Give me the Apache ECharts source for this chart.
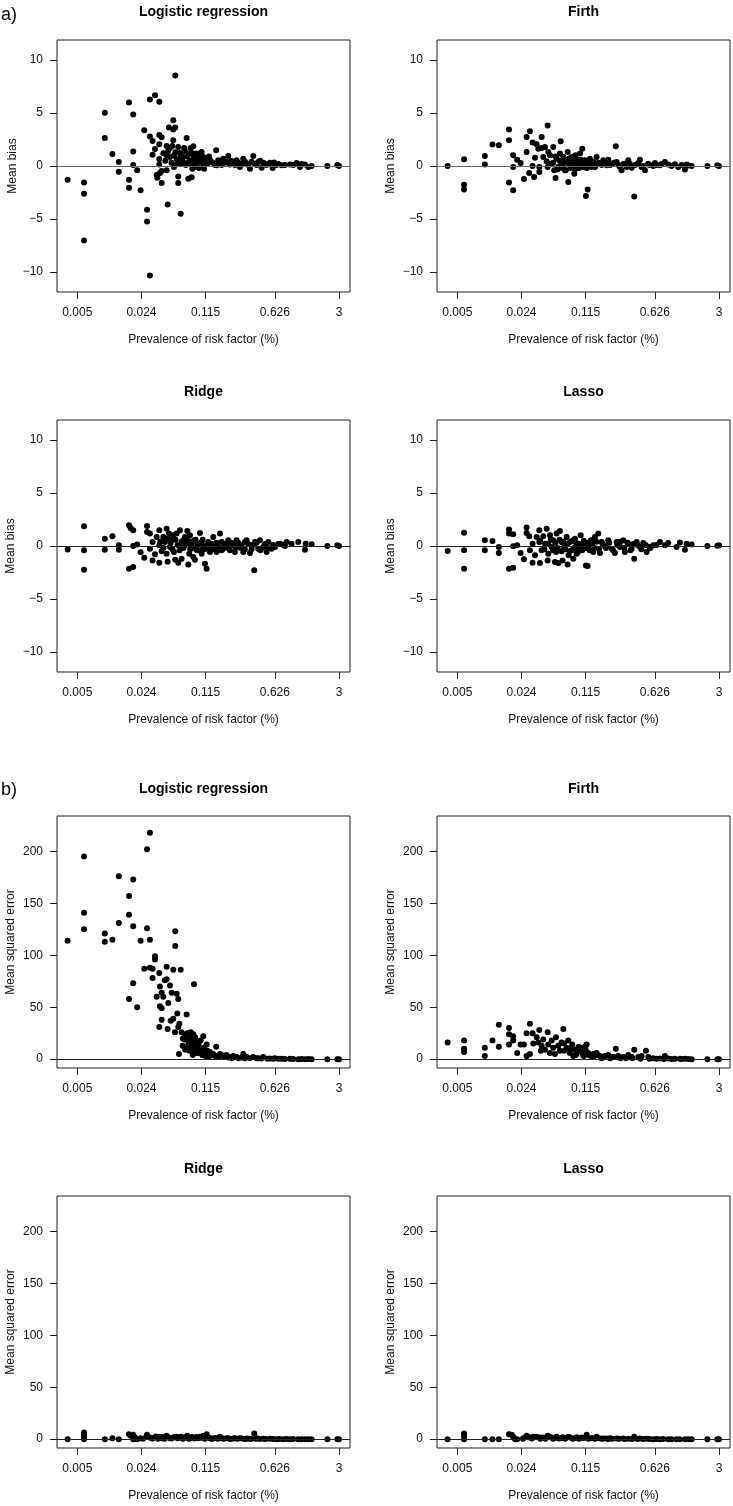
<!DOCTYPE html>
<html>
<head>
<meta charset="utf-8">
<script src="https://cdn.jsdelivr.net/npm/echarts@6/dist/echarts.min.js"></script>
<style>
  html, body { margin: 0; padding: 0; background: #fff; }
  #chart { width: 733px; height: 1506px; }
</style>
</head>
<body>
<div id="chart"></div>
<script>
// tick positions / labels
var prevTicks = [0.005, 0.024, 0.115, 0.626, 3];
var prevTickLabels = ['0.005', '0.024', '0.115', '0.626', '3'];
var biasTicks = [-10, -5, 0, 5, 10];
var mseTicks = [0, 50, 100, 150, 200];
var methods = ['Logistic regression', 'Firth', 'Ridge', 'Lasso'];

// [prevalence (%), mean bias]
var logitBias = [[0.00395,-1.29],[0.0059,-1.55],[0.0059,-2.62],[0.0059,-7.03],[0.0098,5.02],[0.0098,2.65],[0.0118,1.14],[0.0138,0.38],[0.0138,-0.54],[0.0177,5.99],[0.0177,-1.29],[0.0177,-2.05],[0.0196,4.86],[0.0196,1.36],[0.0196,0.09],[0.0216,-0.41],[0.0235,-2.30],[0.0257,3.38],[0.0275,-4.13],[0.0275,-5.24],[0.0295,6.28],[0.0295,2.78],[0.0295,-10.35],[0.0315,2.37],[0.0315,1.07],[0.0334,6.69],[0.0334,1.61],[0.0348,-0.85],[0.0354,-1.10],[0.0371,6.06],[0.0371,2.93],[0.0371,2.05],[0.0371,0.66],[0.0371,0.13],[0.0377,-0.66],[0.0393,2.71],[0.0393,-1.61],[0.0393,-0.47],[0.0444,1.89],[0.0444,1.01],[0.0444,-0.41],[0.0455,-3.63],[0.047,3.63],[0.0482,1.70],[0.0482,0.85],[0.0522,4.32],[0.0522,3.44],[0.0522,2.43],[0.0531,0.98],[0.0531,-0.09],[0.0548,8.55],[0.0548,3.63],[0.0567,0.69],[0.059,1.80],[0.059,-0.98],[0.059,-1.61],[0.0615,1.23],[0.0626,-4.51],[0.064,0.22],[0.0667,0.85],[0.0695,1.42],[0.0724,2.65],[0.0736,0.28],[0.0754,-1.20],[0.0773,1.17],[0.0799,1.70],[0.0818,-1.07],[0.0832,-0.25],[0.0852,1.86],[0.0867,0.85],[0.0887,-0.09],[0.0924,1.17],[0.0962,0.38],[0.1002,0.69],[0.1044,1.32],[0.1087,0.22],[0.111,-0.25],[0.1133,0.79],[0.118,0.47],[0.128,0.60],[0.1389,0.28],[0.149,1.48],[0.1506,0.06],[0.1569,0.54],[0.166,0.22],[0.1773,0.69],[0.1923,0.38],[0.2003,0.95],[0.2087,0.13],[0.2264,0.38],[0.2456,0.54],[0.2664,-0.09],[0.289,0.69],[0.3136,0.22],[0.3402,-0.25],[0.3691,0.95],[0.3844,0.22],[0.417,0.38],[0.4524,-0.16],[0.4909,0.22],[0.593,-0.19],[0.617,0.32],[0.738,0.06],[0.904,0.13],[1.064,0.28],[1.155,-0.09],[1.305,0.13],[1.536,0],[2.26,0],[2.88,0.09],[3.0,0],
  [0.041,1.2],[0.043,0.5],[0.046,1.4],[0.05,0.3],[0.051,1.9],[0.055,1.3],[0.057,0.2],[0.06,0.6],[0.063,1.0],[0.066,0.4],[0.068,1.7],[0.071,0.1],[0.074,0.9],[0.078,0.5],[0.081,0.2],[0.084,1.2],[0.088,0.6],[0.091,0.3],[0.095,0.9],[0.098,-0.2],[0.103,0.4],[0.107,0.9],[0.12,0.2],[0.125,0.9],[0.133,0.4],[0.145,0.1],[0.16,0.3],[0.17,0.1],[0.185,0.3],[0.215,0.5],[0.236,0.1],[0.256,0.3],[0.278,0.2],[0.301,0.4],[0.327,0.1],[0.354,0.4],[0.4,0.1],[0.435,0.5],[0.472,0.3],[0.511,0.1],[0.533,0.2],[0.555,0.3],[0.65,0.1],[0.68,0.2],[0.8,0.1],[0.98,0.1],[1.2,0.2],[1.42,-0.1]];

var firthBias = [[0.00395,0],[0.0059,0.63],[0.0059,-1.77],[0.0059,-2.21],[0.0098,0.95],[0.0098,0.13],[0.0118,2.02],[0.0138,1.96],[0.0177,3.44],[0.0177,2.43],[0.0177,-1.55],[0.0196,1.01],[0.0196,-0.09],[0.0196,-2.30],[0.0216,0.60],[0.0235,0.28],[0.0255,-1.23],[0.0272,2.74],[0.0272,1.32],[0.029,-0.66],[0.0295,3.28],[0.0315,2.21],[0.0315,0],[0.0327,-1.04],[0.0334,0.79],[0.0348,2.05],[0.0362,1.64],[0.0371,-0.09],[0.0371,-0.57],[0.0393,2.74],[0.0393,1.70],[0.0409,0.85],[0.0426,1.80],[0.0444,0.44],[0.0455,3.82],[0.0455,-0.09],[0.0462,1.32],[0.0482,1.01],[0.0502,0.22],[0.0522,1.80],[0.0535,-0.41],[0.0553,-1.14],[0.0567,0.69],[0.059,-0.09],[0.0615,1.17],[0.0626,2.33],[0.064,0.22],[0.0667,0.85],[0.0695,-0.41],[0.0724,0.54],[0.0742,1.32],[0.0754,-1.51],[0.0785,0.06],[0.0818,0.85],[0.0852,0.38],[0.0873,-0.73],[0.0902,1.01],[0.0924,0],[0.0962,0.60],[0.1002,1.17],[0.1044,0.28],[0.1061,1.64],[0.1087,-0.09],[0.1133,0.54],[0.116,-2.84],[0.121,-2.21],[0.1229,0.22],[0.128,0.69],[0.1333,-0.09],[0.1389,0.38],[0.1506,0.85],[0.1634,0.22],[0.1773,0.54],[0.1923,0.06],[0.2003,0.60],[0.2173,0.16],[0.241,1.86],[0.2456,0.38],[0.2664,-0.09],[0.2775,-0.41],[0.3011,0.22],[0.3266,0.54],[0.3543,-0.16],[0.378,-2.87],[0.4004,0.16],[0.4344,0.60],[0.4524,-0.09],[0.4909,-0.41],[0.5325,0.22],[0.6018,0],[0.627,0.28],[0.708,0.06],[0.8,0.38],[0.868,0.13],[1.022,0.16],[1.109,-0.09],[1.305,-0.32],[1.359,0.13],[1.536,0],[2.26,0],[2.88,0.06],[3.0,0],
  [0.052,0.3],[0.055,0.9],[0.058,-0.3],[0.061,0.5],[0.063,-0.2],[0.066,0.1],[0.068,0.6],[0.071,-0.4],[0.074,0.3],[0.077,0.7],[0.08,-0.2],[0.083,0.2],[0.086,0.9],[0.089,-0.3],[0.094,0.4],[0.098,-0.2],[0.102,0.6],[0.106,0.1],[0.111,0.3],[0.118,-0.2],[0.125,0.4],[0.136,0.1],[0.145,-0.1],[0.157,0.3],[0.17,0.1],[0.185,0.3],[0.21,0.1],[0.23,0.3],[0.257,0.1],[0.29,0.2],[0.314,-0.1],[0.34,0.2],[0.385,0.1],[0.42,0.3],[0.47,0],[0.55,0.1],[0.65,0.1],[0.74,0.2],[0.94,0],[1.2,0.1],[1.42,0.05]];

var ridgeBias = [[0.00395,-0.32],[0.0059,1.86],[0.0059,-0.41],[0.0059,-2.24],[0.0098,0.69],[0.0098,-0.35],[0.0118,0.91],[0.0138,0.06],[0.0138,-0.35],[0.0177,1.96],[0.0177,-2.15],[0.0184,1.70],[0.0196,1.48],[0.0196,-1.99],[0.0196,0],[0.0216,0.13],[0.0235,-0.60],[0.0257,-1.10],[0.0275,1.89],[0.0275,1.32],[0.0295,1.17],[0.0295,-0.25],[0.0315,0.38],[0.0315,-1.36],[0.0334,-0.79],[0.0348,0.85],[0.0371,1.48],[0.0371,0.06],[0.0371,-1.58],[0.0393,-0.50],[0.0409,0.85],[0.0426,0.38],[0.0444,1.64],[0.0444,-0.73],[0.0455,-1.48],[0.047,1.17],[0.0482,-0.09],[0.0502,0.54],[0.0522,1.01],[0.0531,-0.57],[0.0548,-1.29],[0.0567,1.17],[0.059,-1.58],[0.0615,1.48],[0.0626,-0.09],[0.064,-1.20],[0.0667,0.54],[0.0695,0.85],[0.0724,0.22],[0.0736,1.42],[0.0754,-1.74],[0.0773,-0.73],[0.0785,1.01],[0.0818,-0.09],[0.0852,-1.04],[0.0867,0.54],[0.0887,-1.29],[0.0924,-0.41],[0.0962,0.22],[0.1002,1.23],[0.1044,-0.73],[0.1087,-0.09],[0.1133,-1.67],[0.118,-2.15],[0.1229,0.38],[0.128,-0.57],[0.1389,0.85],[0.1446,0.06],[0.1506,-0.57],[0.1634,1.17],[0.1702,0.38],[0.1773,-0.25],[0.1923,0.22],[0.2003,0.54],[0.2087,-0.41],[0.2264,0.06],[0.2358,-0.57],[0.2456,0.54],[0.2664,-0.16],[0.289,-0.57],[0.3011,0.38],[0.3136,0.54],[0.3402,-0.66],[0.3543,0.06],[0.378,-2.30],[0.3844,0.38],[0.417,-0.25],[0.4344,0.54],[0.4713,-0.09],[0.5113,-0.57],[0.5325,0.38],[0.5778,-0.25],[0.627,-0.09],[0.708,0.22],[0.8,0],[0.834,0.38],[0.942,0.22],[1.109,0.38],[1.305,-0.35],[1.33,0.22],[1.536,0.16],[2.26,0],[2.88,0.06],[3.0,0],
  [0.038,0.4],[0.041,-0.2],[0.046,0.7],[0.049,0.3],[0.051,-0.3],[0.055,0.6],[0.058,0.1],[0.061,-0.4],[0.064,0.4],[0.067,-0.2],[0.07,0.1],[0.075,0.5],[0.079,-0.3],[0.082,0.3],[0.087,-0.2],[0.09,0.6],[0.094,0.1],[0.098,-0.4],[0.103,0.3],[0.107,0.6],[0.112,-0.3],[0.118,0.1],[0.125,-0.2],[0.133,0.2],[0.141,-0.3],[0.15,0.3],[0.157,-0.1],[0.17,-0.4],[0.18,0.2],[0.2,-0.2],[0.215,0.3],[0.24,-0.1],[0.256,0.3],[0.278,0.1],[0.3,-0.3],[0.327,0.2],[0.354,-0.3],[0.37,0.1],[0.4,0.3],[0.44,-0.4],[0.49,0.2],[0.53,-0.2],[0.6,0.1],[0.68,0.2],[0.77,0.1]];

var lassoBias = [[0.00395,-0.47],[0.0059,1.26],[0.0059,-0.41],[0.0059,-2.15],[0.0098,0.54],[0.0098,-0.41],[0.0118,0.47],[0.0138,-0.09],[0.0138,-0.66],[0.0177,1.55],[0.0177,1.17],[0.0177,-2.15],[0.0196,1.10],[0.0196,-0.03],[0.0196,-2.05],[0.0216,0.06],[0.0235,-0.66],[0.0255,-1.26],[0.0272,1.74],[0.0272,1.23],[0.029,0.91],[0.0295,-0.41],[0.0315,0.22],[0.0315,-1.58],[0.0334,-0.88],[0.0348,0.85],[0.0371,1.48],[0.0371,0.38],[0.0377,-1.61],[0.0393,-0.41],[0.0409,0.91],[0.0426,0.22],[0.0444,1.64],[0.0455,-1.36],[0.0462,-0.73],[0.0482,1.01],[0.0502,-0.09],[0.0522,0.54],[0.0544,-1.51],[0.0558,-0.57],[0.0567,1.17],[0.059,-1.61],[0.0615,1.42],[0.064,0.38],[0.0656,-1.36],[0.0683,-0.09],[0.0724,0.85],[0.0742,-1.74],[0.076,-0.88],[0.0785,0.38],[0.0818,-0.41],[0.0852,-1.20],[0.0887,0.69],[0.0924,-0.73],[0.0962,-0.09],[0.102,1.01],[0.1061,-0.41],[0.1087,0.22],[0.116,-1.83],[0.121,-1.89],[0.1229,-0.09],[0.131,0.54],[0.1389,-0.57],[0.1446,0.85],[0.1569,1.17],[0.1634,-0.66],[0.1702,0.38],[0.1847,-0.03],[0.2003,0.54],[0.2173,-0.25],[0.2358,-0.66],[0.2456,0.38],[0.2664,-0.09],[0.289,0.54],[0.3011,-0.57],[0.3266,0.22],[0.3543,-0.25],[0.378,-1.20],[0.4004,0.38],[0.4344,-0.09],[0.4713,0.28],[0.5113,-0.57],[0.5547,-0.09],[0.6018,0.06],[0.708,0.38],[0.8,0.06],[0.868,0.28],[1.064,-0.09],[1.155,0.32],[1.305,-0.35],[1.359,0.22],[1.536,0.13],[2.26,0],[2.88,0.03],[3.0,0.06],
  [0.038,0.5],[0.042,-0.3],[0.046,0.2],[0.049,0.6],[0.052,-0.4],[0.055,0.3],[0.058,-0.2],[0.061,0.6],[0.064,-0.5],[0.067,0.4],[0.07,-0.3],[0.074,0.2],[0.078,-0.5],[0.083,0.5],[0.087,-0.2],[0.091,0.3],[0.095,-0.6],[0.1,0.2],[0.104,-0.3],[0.11,0.5],[0.115,-0.2],[0.12,0.3],[0.127,-0.4],[0.135,0.2],[0.143,-0.2],[0.15,0.4],[0.16,-0.3],[0.175,0.2],[0.19,-0.2],[0.205,0.3],[0.225,-0.4],[0.25,0.1],[0.27,0.4],[0.295,-0.2],[0.32,0.3],[0.345,-0.4],[0.37,0.2],[0.41,0.1],[0.45,-0.3],[0.5,0.1],[0.56,-0.2],[0.65,0.1]];

// [prevalence (%), mean squared error]
var logitMse = [[0.00395,114],[0.0059,195],[0.0059,141],[0.0059,125],[0.0098,121],[0.0098,113],[0.0118,115],[0.0138,176],[0.0138,131],[0.0177,157],[0.0177,139],[0.0177,58],[0.0196,173],[0.0196,128],[0.0196,73],[0.0216,50],[0.0235,114],[0.0257,87],[0.0275,202],[0.0275,126],[0.0295,218],[0.0295,115],[0.0295,88],[0.0315,78],[0.0315,87],[0.0334,99],[0.0334,96],[0.0348,60],[0.0371,83],[0.0371,31],[0.0377,70],[0.0377,51],[0.0393,64],[0.0393,49],[0.0393,38],[0.0409,60],[0.0426,76],[0.0444,89],[0.0444,77],[0.0455,29],[0.0462,54],[0.0482,71],[0.049,37],[0.0502,64],[0.0522,86],[0.0522,39],[0.0544,26],[0.0548,123],[0.0548,109],[0.0567,63],[0.0576,44],[0.059,58],[0.059,31],[0.06,5],[0.0605,34],[0.0626,86],[0.064,26],[0.0656,13],[0.0683,19],[0.0695,23],[0.0724,43],[0.0736,11],[0.0754,14],[0.0773,8],[0.0785,21],[0.0799,26],[0.0818,17],[0.0832,8],[0.0852,24],[0.0852,13],[0.0867,72],[0.0887,6],[0.091,16],[0.0924,10],[0.0962,11],[0.1002,6],[0.1044,10],[0.1087,22],[0.111,5],[0.1133,8],[0.118,14],[0.1229,5],[0.128,7],[0.1389,5],[0.149,12],[0.1506,3],[0.1634,5],[0.1773,3],[0.1923,4],[0.2087,2],[0.2264,3],[0.2456,2],[0.289,5],[0.3136,2],[0.3691,2],[0.417,1],[0.4713,2],[0.5547,0.6],[0.627,1],[0.738,0.3],[0.904,0.3],[1.109,0],[1.305,0],[1.536,0],[2.26,0],[2.88,0],[3.0,0],
  [0.066,20],[0.07,9],[0.073,25],[0.076,17],[0.079,12],[0.082,20],[0.084,4],[0.086,15],[0.089,21],[0.092,18],[0.094,6],[0.097,14],[0.099,9],[0.102,18],[0.106,4],[0.11,11],[0.115,3],[0.12,8],[0.125,2],[0.132,4],[0.145,3],[0.158,2],[0.17,4],[0.185,2],[0.2,1.5],[0.22,1],[0.237,2],[0.257,1],[0.278,1.5],[0.3,1],[0.34,1],[0.4,0.8],[0.45,0.6],[0.52,0.5],[0.6,0.4],[0.68,0.3],[0.8,0.2],[0.98,0.1],[1.2,0.1],[1.42,0.05]];

var firthMse = [[0.00395,16],[0.0059,18],[0.0059,10],[0.0059,7],[0.0098,11],[0.0098,3],[0.0118,18],[0.0138,33],[0.0138,12],[0.0177,30],[0.0177,24],[0.0177,14],[0.0196,22],[0.0196,18],[0.0216,6],[0.0235,14],[0.0255,14],[0.0272,25],[0.0272,3],[0.0295,34],[0.0295,5],[0.0315,25],[0.032,15],[0.0348,21],[0.0362,16],[0.0371,28],[0.0385,8],[0.0393,13],[0.0409,19],[0.0426,9],[0.0455,26],[0.0462,14],[0.0482,6],[0.0502,18],[0.0522,11],[0.0544,5],[0.0558,21],[0.059,13],[0.0615,8],[0.064,16],[0.0667,29],[0.0683,8],[0.0724,11],[0.0754,18],[0.0785,6],[0.0818,11],[0.0852,3],[0.0887,9],[0.0924,5],[0.0962,8],[0.102,11],[0.1087,4],[0.1133,12],[0.118,14],[0.1229,6],[0.131,3],[0.1389,5],[0.1506,6],[0.1634,3],[0.1773,2],[0.2003,4],[0.2173,2],[0.241,10],[0.2558,3],[0.289,2],[0.3266,4],[0.3543,2],[0.378,9],[0.417,2],[0.4524,3],[0.503,8],[0.5325,2],[0.6018,1],[0.708,0.6],[0.8,3],[0.868,0.6],[1.022,0.3],[1.155,0.3],[1.305,0.3],[1.536,0],[2.26,0],[2.88,0],[3.0,0],
  [0.068,15],[0.079,9],[0.083,14],[0.09,4],[0.097,12],[0.105,7],[0.11,3],[0.115,9],[0.125,4],[0.14,2],[0.155,4],[0.17,1],[0.185,3],[0.21,1],[0.23,2],[0.27,1],[0.31,1],[0.36,1],[0.44,0.5],[0.55,0.5],[0.65,0.4],[0.78,0.2],[0.94,0.1],[1.2,0.1],[1.42,0.05]];

var ridgeMse = [[0.00395,0],[0.0059,6.4],[0.0059,4.2],[0.0059,1.6],[0.0059,0],[0.0098,0],[0.0118,1],[0.0138,0],[0.0177,4.8],[0.0184,3.2],[0.0196,4.2],[0.0196,0],[0.0205,1.6],[0.0216,0],[0.0235,1],[0.0275,4.2],[0.0295,1.6],[0.0315,0.6],[0.0371,2.3],[0.0393,1],[0.0444,3.2],[0.0482,1],[0.0522,1.6],[0.0567,2.3],[0.0615,1.6],[0.0667,1],[0.0736,3.2],[0.0785,1],[0.0852,1.6],[0.1002,2.3],[0.1087,3.2],[0.118,4.8],[0.128,1],[0.1389,0.6],[0.1634,2.3],[0.1923,1],[0.2264,0.6],[0.2664,1],[0.3136,0.6],[0.378,5.5],[0.4004,1],[0.4713,0.3],[0.5547,0.3],[0.653,0],[0.768,0],[0.904,0],[1.109,0],[1.305,0],[1.536,0],[2.26,0],[2.88,0],[3.0,0],
  [0.025,0.5],[0.027,2],[0.031,1],[0.034,2.5],[0.036,0.5],[0.04,2],[0.042,0.5],[0.046,1.8],[0.05,0.6],[0.054,2],[0.058,0.8],[0.063,2.4],[0.066,0.5],[0.07,1.8],[0.076,0.4],[0.082,2],[0.088,0.6],[0.092,2.2],[0.096,0.8],[0.104,1.4],[0.113,0.5],[0.123,1.8],[0.133,0.4],[0.145,1.2],[0.155,0.3],[0.17,1],[0.18,0.4],[0.2,0.9],[0.21,0.2],[0.235,0.8],[0.25,0.3],[0.28,0.6],[0.3,0.2],[0.33,0.5],[0.35,0.2],[0.39,0.3],[0.43,0.2],[0.5,0.2],[0.6,0.1],[0.7,0.1],[0.83,0.05],[0.98,0.05],[1.2,0],[1.42,0]];

var lassoMse = [[0.00395,0],[0.0059,5.5],[0.0059,3.2],[0.0059,0],[0.0098,0],[0.0118,0],[0.0138,0],[0.0177,4.8],[0.0189,4.2],[0.0196,2.3],[0.0205,0],[0.0216,0],[0.0251,1],[0.0272,3.2],[0.0295,1.6],[0.032,2.3],[0.0377,1.6],[0.0455,3.2],[0.0502,1.6],[0.0567,2.3],[0.064,1],[0.0754,2.3],[0.0887,1],[0.1044,1.6],[0.118,4.2],[0.128,1],[0.1506,2.3],[0.1773,0.6],[0.2087,1],[0.2456,0.6],[0.289,0.6],[0.378,2.3],[0.4344,0.6],[0.5113,0.3],[0.6018,0],[0.708,0],[0.868,0],[1.064,0],[1.305,0],[1.536,0],[2.26,0],[2.88,0],[3.0,0],
  [0.025,0.4],[0.028,1.8],[0.031,0.6],[0.035,2.2],[0.038,0.5],[0.041,1.5],[0.043,0.4],[0.048,2],[0.052,0.5],[0.055,1.4],[0.06,0.6],[0.066,1.8],[0.07,0.4],[0.079,1.5],[0.084,0.5],[0.093,1.8],[0.098,0.5],[0.11,1.2],[0.123,0.4],[0.135,1.2],[0.145,0.3],[0.16,0.9],[0.17,0.3],[0.19,0.6],[0.2,0.2],[0.22,0.5],[0.26,0.3],[0.3,0.2],[0.33,0.4],[0.36,0.2],[0.41,0.2],[0.47,0.2],[0.55,0.1],[0.65,0.1],[0.77,0.05],[0.94,0],[1.15,0],[1.42,0]];

var panels = [
  { data: logitBias, kind: 'bias' }, { data: firthBias, kind: 'bias' },
  { data: ridgeBias, kind: 'bias' }, { data: lassoBias, kind: 'bias' },
  { data: logitMse, kind: 'mse' }, { data: firthMse, kind: 'mse' },
  { data: ridgeMse, kind: 'mse' }, { data: lassoMse, kind: 'mse' }
];

var font = 'Liberation Sans, Arial, Helvetica, sans-serif';
var colLeft = [57, 437];
var rowTop = [40, 420, 816, 1196];
var plotW = 293, plotH = 252;
var xMin = -2.5165, xMax = 0.594;
var xTickVals = prevTicks.map(function(v) { return Math.log10(v); });

function xLabel(v) {
  for (var i = 0; i < xTickVals.length; i++) {
    if (Math.abs(xTickVals[i] - v) < 1e-6) return prevTickLabels[i];
  }
  return '';
}
function yLabel(v) { return String(v).replace('-', '\u2212'); }

var grids = [], xAxes = [], yAxes = [], series = [], graphics = [];

panels.forEach(function(p, i) {
  var col = i % 2, row = Math.floor(i / 2);
  var left = colLeft[col], top = rowTop[row];
  var isBias = p.kind === 'bias';
  grids.push({
    left: left, top: top, width: plotW, height: plotH,
    show: true, borderColor: '#222', borderWidth: 1, backgroundColor: 'transparent',
    outerBoundsMode: 'none'
  });
  xAxes.push({
    gridIndex: i, type: 'value', min: xMin, max: xMax, position: 'bottom',
    axisLine: { show: false, onZero: false }, splitLine: { show: false },
    axisTick: { customValues: xTickVals, length: 7, lineStyle: { color: '#222' } },
    axisLabel: { customValues: xTickVals, formatter: xLabel, margin: 15,
      fontSize: 12, color: '#111', fontFamily: font },
    name: 'Prevalence of risk factor (%)', nameLocation: 'middle', nameGap: 42,
    nameTextStyle: { fontSize: 12, color: '#111', fontFamily: font }
  });
  var yTicks = isBias ? biasTicks : mseTicks;
  var yGap = (i === 0) ? 31 : 40;
  yAxes.push({
    gridIndex: i, type: 'value', position: 'left',
    min: isBias ? -11.9 : -8.5, max: isBias ? 11.9 : 234,
    axisLine: { show: false, onZero: false }, splitLine: { show: false },
    axisTick: { customValues: yTicks, length: 7, lineStyle: { color: '#222' } },
    axisLabel: { customValues: yTicks, formatter: yLabel, margin: 14,
      fontSize: 12, color: '#111', fontFamily: font },
    name: isBias ? 'Mean bias' : 'Mean squared error', nameLocation: 'middle',
    nameRotate: 90, nameGap: yGap,
    nameTextStyle: { fontSize: 12, color: '#111', fontFamily: font }
  });
  series.push({
    type: 'scatter', xAxisIndex: i, yAxisIndex: i,
    symbol: 'circle', symbolSize: 6,
    itemStyle: { color: '#000', opacity: 1 },
    data: p.data.map(function(d) { return [Math.log10(d[0]), d[1]]; }),
    markLine: {
      silent: true, symbol: 'none', animation: false,
      label: { show: false },
      lineStyle: { color: row === 0 ? '#666' : '#222', type: 'solid', width: 1 },
      data: [{ yAxis: 0 }]
    }
  });
  graphics.push({
    type: 'text', x: left + plotW / 2, y: [12.5, 392, 789, 1169][row],
    style: { text: methods[i % 4], textAlign: 'center', textVerticalAlign: 'middle',
      font: 'bold 14px ' + font, fill: '#000' }
  });
});

graphics.push({ type: 'text', x: 1, y: 15,
  style: { text: 'a)', textVerticalAlign: 'middle', font: '18px ' + font, fill: '#000' } });
graphics.push({ type: 'text', x: 1, y: 790,
  style: { text: 'b)', textVerticalAlign: 'middle', font: '18px ' + font, fill: '#000' } });

var chart = echarts.init(document.getElementById('chart'), null, { renderer: 'canvas' });
chart.setOption({
  animation: false,
  backgroundColor: '#fff',
  textStyle: { fontFamily: font },
  grid: grids,
  xAxis: xAxes,
  yAxis: yAxes,
  series: series,
  graphic: graphics
});
</script>
</body>
</html>
